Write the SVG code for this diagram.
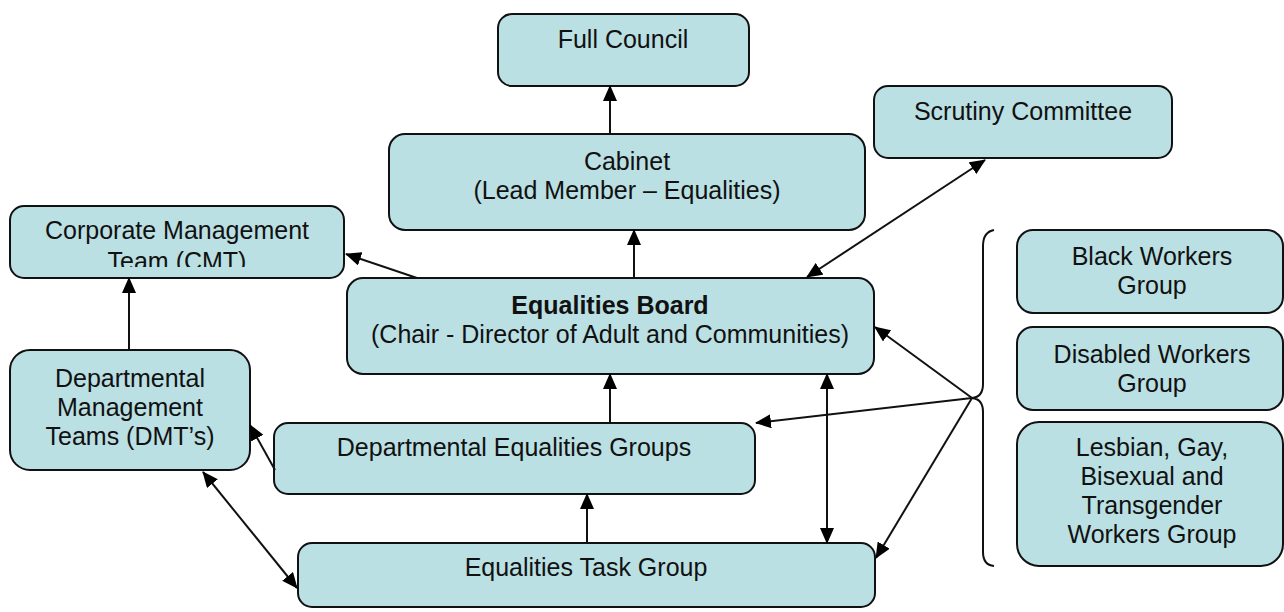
<svg xmlns="http://www.w3.org/2000/svg" width="1284" height="612" viewBox="0 0 1284 612">
<style>
.box{fill:#bae0e3;stroke:#111;stroke-width:2}
.t{font-family:"Liberation Sans",Arial,sans-serif;font-size:25px;fill:#111;text-anchor:middle}
.b{font-weight:bold}
.c{stroke:#111;stroke-width:2;fill:none}
</style>
<defs>
<marker id="ah" markerUnits="userSpaceOnUse" markerWidth="16" markerHeight="14" refX="15" refY="7" orient="auto-start-reverse" viewBox="0 0 16 14">
<path d="M0,0 L16,7 L0,14 z" fill="#000"/>
</marker>
<clipPath id="cmtclip"><rect x="10" y="206" width="334" height="61"/></clipPath>
</defs>
<rect width="1284" height="612" fill="#fff"/>

<g id="full-council">
<rect class="box" x="498" y="14" width="251" height="72" rx="14"/>
<text class="t" x="623" y="48">Full Council</text>
</g>
<g id="cabinet">
<rect class="box" x="389" y="134" width="476" height="96" rx="16"/>
<text class="t" x="627" y="170">Cabinet</text>
<text class="t" x="627" y="199">(Lead Member – Equalities)</text>
</g>
<g id="scrutiny">
<rect class="box" x="874" y="86" width="298" height="72" rx="14"/>
<text class="t" x="1023" y="120">Scrutiny Committee</text>
</g>
<g id="cmt">
<rect class="box" x="10" y="206" width="334" height="72" rx="14"/>
<text class="t" x="177" y="239">Corporate Management</text>
<text class="t" x="177" y="270" clip-path="url(#cmtclip)">Team (CMT)</text>
</g>
<g id="board">
<rect class="box" x="347" y="278" width="527" height="96" rx="16"/>
<text class="t b" x="610" y="314">Equalities Board</text>
<text class="t" x="610" y="343">(Chair - Director of Adult and Communities)</text>
</g>
<g id="dmt">
<rect class="box" x="10" y="350" width="240" height="120" rx="20"/>
<text class="t" x="130" y="387">Departmental</text>
<text class="t" x="130" y="416">Management</text>
<text class="t" x="130" y="445">Teams (DMT’s)</text>
</g>
<g id="deg">
<rect class="box" x="274" y="423" width="481" height="71" rx="14"/>
<text class="t" x="514" y="456">Departmental Equalities Groups</text>
</g>
<g id="etg">
<rect class="box" x="298" y="543" width="577" height="64" rx="14"/>
<text class="t" x="586" y="576">Equalities Task Group</text>
</g>
<g id="black-workers">
<rect class="box" x="1017" y="230" width="266" height="83" rx="16"/>
<text class="t" x="1152" y="265">Black Workers</text>
<text class="t" x="1152" y="294">Group</text>
</g>
<g id="disabled-workers">
<rect class="box" x="1017" y="327" width="266" height="83" rx="16"/>
<text class="t" x="1152" y="363">Disabled Workers</text>
<text class="t" x="1152" y="392">Group</text>
</g>
<g id="lgbt-workers">
<rect class="box" x="1017" y="422" width="266" height="144" rx="22"/>
<text class="t" x="1152" y="456">Lesbian, Gay,</text>
<text class="t" x="1152" y="485">Bisexual and</text>
<text class="t" x="1152" y="514">Transgender</text>
<text class="t" x="1152" y="543">Workers Group</text>
</g>

<g id="brace">
<path class="c" stroke-width="1.6" d="M994,230 Q983,232 983,246 L983,384 Q983,397 972,398 Q983,399 983,412 L983,552 Q983,565 994,566"/>
</g>

<g id="connectors">
<line class="c" x1="610" y1="134" x2="610" y2="86" marker-end="url(#ah)"/>
<line class="c" x1="634" y1="278" x2="634" y2="230" marker-end="url(#ah)"/>
<line class="c" x1="417" y1="278" x2="346" y2="254" marker-end="url(#ah)"/>
<line class="c" x1="129" y1="350" x2="129" y2="278" marker-end="url(#ah)"/>
<line class="c" x1="807" y1="277" x2="985" y2="160" marker-start="url(#ah)" marker-end="url(#ah)"/>
<line class="c" x1="972" y1="398" x2="875" y2="327" marker-end="url(#ah)"/>
<line class="c" x1="972" y1="398" x2="756" y2="423" marker-end="url(#ah)"/>
<line class="c" x1="972" y1="398" x2="876" y2="558" marker-end="url(#ah)"/>
<line class="c" x1="827" y1="374" x2="827" y2="543" marker-start="url(#ah)" marker-end="url(#ah)"/>
<line class="c" x1="610" y1="423" x2="610" y2="374" marker-end="url(#ah)"/>
<line class="c" x1="587" y1="543" x2="587" y2="494" marker-end="url(#ah)"/>
<line class="c" x1="275" y1="470" x2="250" y2="425" marker-end="url(#ah)"/>
<line class="c" x1="203" y1="472" x2="297" y2="588" marker-start="url(#ah)" marker-end="url(#ah)"/>
</g>
</svg>
